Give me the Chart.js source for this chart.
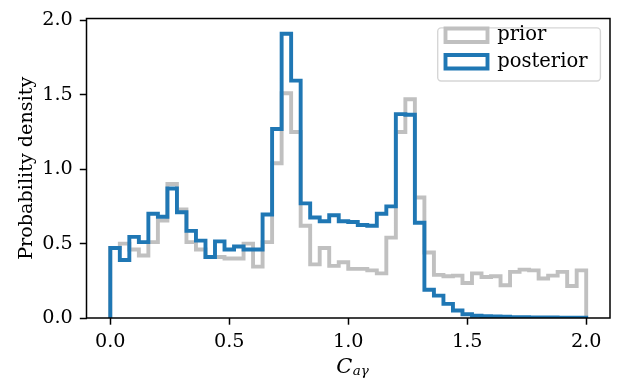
<!DOCTYPE html>
<html>
<head>
<meta charset="utf-8">
<script src="https://cdn.jsdelivr.net/npm/chart.js@4/dist/chart.umd.min.js"></script>
<style>
html,body{margin:0;padding:0;background:#fff;}
#wrap{width:627px;height:381px;position:relative;}
</style>
</head>
<body>
<div id="wrap"><canvas id="c" width="627" height="381"></canvas></div>
<script>
// ---- data ----
const binEdges = [0.00,0.04,0.08,0.12,0.16,0.20,0.24,0.28,0.32,0.36,0.40,0.44,0.48,0.52,0.56,0.60,0.64,0.68,0.72,0.76,
  0.80,0.84,0.88,0.92,0.96,1.00,1.04,1.08,1.12,1.16,1.20,1.24,1.28,1.32,1.36,1.40,1.44,1.48,1.52,1.56,
  1.60,1.64,1.68,1.72,1.76,1.80,1.84,1.88,1.92,1.96,2.00];

const priorDensity = [0.47,0.50,0.46,0.42,0.51,0.655,0.90,0.73,0.51,0.46,
  0.41,0.41,0.40,0.40,0.50,0.345,0.51,1.04,1.51,1.25,
  0.62,0.36,0.47,0.35,0.375,0.33,0.33,0.32,0.30,0.54,
  1.25,1.47,0.81,0.44,0.29,0.28,0.285,0.235,0.30,0.275,
  0.28,0.22,0.31,0.325,0.32,0.265,0.285,0.31,0.215,0.32];

const posteriorDensity = [0.47,0.39,0.545,0.51,0.70,0.68,0.87,0.71,0.585,0.52,
  0.41,0.515,0.46,0.48,0.46,0.46,0.695,1.27,1.91,1.595,
  0.77,0.675,0.65,0.69,0.65,0.645,0.625,0.62,0.70,0.75,
  1.37,1.365,0.64,0.19,0.15,0.095,0.05,0.025,0.015,0.012,
  0.01,0.008,0.006,0.005,0.004,0.003,0.003,0.002,0.002,0.002];

const seriesLabels = ['prior', 'posterior'];
const xTickValues = [0.0, 0.5, 1.0, 1.5, 2.0];
const xTickLabels = ['0.0', '0.5', '1.0', '1.5', '2.0'];
const yTickValues = [0.0, 0.5, 1.0, 1.5, 2.0];
const yTickLabels = ['0.0', '0.5', '1.0', '1.5', '2.0'];
const yTitle = 'Probability density';
const xTitleMain = 'C';
const xTitleSub = 'a\u03B3';

// ---- helpers ----
function stepPoints(edges, vals) {
  const pts = [{x: edges[0], y: 0}];
  for (let i = 0; i < vals.length; i++) pts.push({x: edges[i], y: vals[i]});
  pts.push({x: edges[vals.length], y: vals[vals.length - 1]});
  pts.push({x: edges[vals.length], y: 0});
  return pts;
}

const FONT = "'DejaVu Serif'";
const FS = 19.2;

const legendPlace = {
  id: 'legendPlace',
  afterLayout(chart) {
    const lg = chart.legend;
    if (!lg) return;
    const w = lg.width, h = lg.height;
    lg.left = 438.5;
    lg.top = 18.5;
    lg.right = lg.left + w;
    lg.bottom = lg.top + h;
  },
  beforeDraw(chart) {
    const ctx = chart.ctx;
    const ca = chart.chartArea;
    const right = ca.right - 9.6;
    const top = ca.top + 9.4;
    const left = 437.7;
    const bottom = 81;
    const r = 3.5;
    ctx.save();
    ctx.beginPath();
    ctx.moveTo(left + r, top);
    ctx.lineTo(right - r, top);
    ctx.arcTo(right, top, right, top + r, r);
    ctx.lineTo(right, bottom - r);
    ctx.arcTo(right, bottom, right - r, bottom, r);
    ctx.lineTo(left + r, bottom);
    ctx.arcTo(left, bottom, left, bottom - r, r);
    ctx.lineTo(left, top + r);
    ctx.arcTo(left, top, left + r, top, r);
    ctx.closePath();
    ctx.fillStyle = 'rgba(255,255,255,0.8)';
    ctx.fill();
    ctx.lineWidth = 1.4;
    ctx.strokeStyle = '#d6d6d6';
    ctx.stroke();
    ctx.restore();
  }
};

const frameAndTitle = {
  id: 'frameAndTitle',
  afterDraw(chart) {
    const ctx = chart.ctx;
    const ca = chart.chartArea;
    ctx.save();
    ctx.strokeStyle = '#000';
    ctx.lineWidth = 1.5;
    ctx.strokeRect(ca.left, ca.top, ca.right - ca.left, ca.bottom - ca.top);
    // x title with subscript
    ctx.fillStyle = '#000';
    ctx.textBaseline = 'alphabetic';
    ctx.textAlign = 'left';
    const mainFont = 'italic 21px ' + FONT;
    const subFont = 'italic 13.5px ' + FONT;
    ctx.font = mainFont;
    const w1 = ctx.measureText(xTitleMain).width;
    ctx.font = subFont;
    const w2 = ctx.measureText(xTitleSub).width;
    const cx = (ca.left + ca.right) / 2 + 4;
    const x0 = cx - (w1 + w2) / 2;
    ctx.font = mainFont;
    ctx.fillText(xTitleMain, x0, 372.5);
    ctx.font = subFont;
    ctx.fillText(xTitleSub, x0 + w1 + 0.5, 375);
    ctx.restore();
  }
};

const ctx = document.getElementById('c').getContext('2d');
new Chart(ctx, {
  type: 'line',
  data: {
    datasets: [
      {
        label: seriesLabels[0],
        data: stepPoints(binEdges, priorDensity),
        borderColor: '#c0c0c0',
        backgroundColor: 'rgba(255,255,255,0)',
        borderWidth: 3.9,
        stepped: 'before',
        pointRadius: 0,
        fill: false,
        borderJoinStyle: 'miter',
        order: 1
      },
      {
        label: seriesLabels[1],
        data: stepPoints(binEdges, posteriorDensity),
        borderColor: '#1f77b4',
        backgroundColor: 'rgba(255,255,255,0)',
        borderWidth: 3.9,
        stepped: 'before',
        pointRadius: 0,
        fill: false,
        borderJoinStyle: 'miter',
        order: 0
      }
    ]
  },
  options: {
    responsive: false,
    devicePixelRatio: 1,
    animation: false,
    layout: {padding: {top: 7.5, right: 17, left: 0, bottom: 0}},
    plugins: {
      legend: {
        display: true,
        position: 'chartArea',
        align: 'start',
        labels: {
          boxWidth: 42,
          boxHeight: 13.5,
          padding: 7,
          color: '#000',
          font: {family: FONT, size: 19.5},
          sort: (a, b) => a.datasetIndex - b.datasetIndex
        }
      },
      tooltip: {enabled: false}
    },
    scales: {
      x: {
        type: 'linear',
        min: -0.1,
        max: 2.1,
        afterBuildTicks: (s) => { s.ticks = xTickValues.map(v => ({value: v})); },
        afterFit: (s) => { s.height = 63; },
        ticks: {
          includeBounds: false,
          color: '#000',
          font: {family: FONT, size: FS},
          padding: 6,
          maxRotation: 0,
          callback: (v, i) => xTickLabels[i]
        },
        grid: {display: true, drawOnChartArea: false, drawTicks: true, tickLength: 6.7, tickWidth: 1.5, tickColor: '#000'},
        border: {display: false},
        title: {display: false}
      },
      y: {
        type: 'linear',
        min: 0,
        max: 2.012,
        afterBuildTicks: (s) => { s.ticks = yTickValues.map(v => ({value: v})); },
        afterFit: (s) => { s.width = 86.5; },
        ticks: {
          includeBounds: false,
          color: '#000',
          font: {family: FONT, size: FS},
          padding: 7,
          callback: (v, i) => yTickLabels[i]
        },
        grid: {display: true, drawOnChartArea: false, drawTicks: true, tickLength: 6.7, tickWidth: 1.5, tickColor: '#000'},
        border: {display: false},
        title: {
          display: true,
          text: yTitle,
          color: '#000',
          font: {family: FONT, size: FS},
          padding: {top: 15, bottom: 0}
        }
      }
    }
  },
  plugins: [legendPlace, frameAndTitle]
});
</script>
</body>
</html>
